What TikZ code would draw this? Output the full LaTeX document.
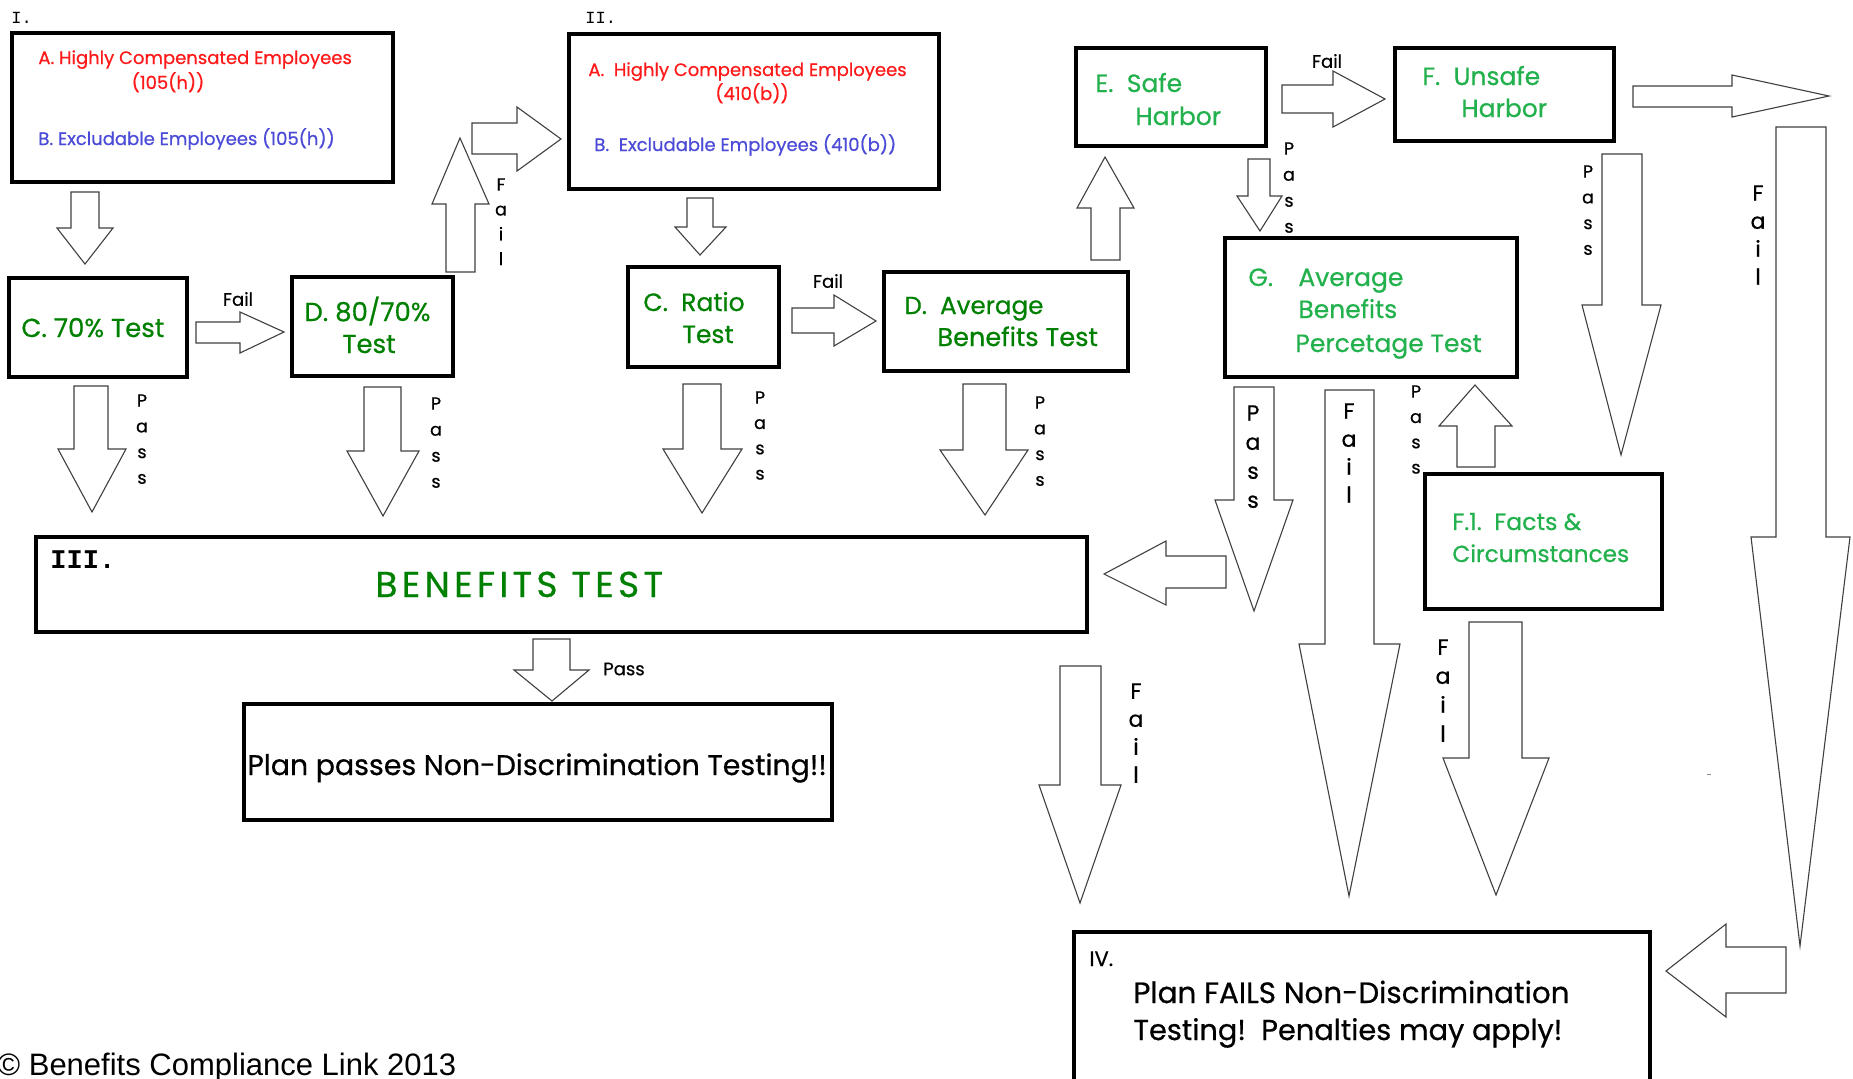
\documentclass[tikz,border=0pt]{standalone}
\usepackage{fontspec}
\setmainfont{Poppins}[RawFeature={embolden=0.6}]
\newfontfamily\monofam{Liberation Mono}
\newfontfamily\copyfont{Liberation Sans}
\usetikzlibrary{fit}
\definecolor{cred}{RGB}{255,25,25}
\definecolor{cblue}{RGB}{75,75,215}
\definecolor{dgreen}{RGB}{0,128,0}
\definecolor{lgreen}{RGB}{34,177,76}
\tikzset{
  box/.style={draw=black, line width=2.1pt, fill=white, inner sep=0pt},
  blk/.style={draw=black!75, line width=0.55pt, fill=white, line join=miter},
  txt/.style={anchor=base west, inner sep=0pt},
  ctxt/.style={anchor=base, inner sep=0pt},
  fs/.style={font=\fontsize{#1}{#1}\selectfont},
  lbl/.style={inner sep=0pt, font=\fontsize{9}{11}\selectfont},
}
% vertical block arrow: shaft xl, shaft xr, start y, head-base y, head xl, head xr, tip x, tip y
\newcommand\vblk[8]{\draw[blk] (#1,#3) -- (#2,#3) -- (#2,#4) -- (#6,#4) -- (#7,#8) -- (#5,#4) -- (#1,#4) -- cycle;}
% horizontal block arrow: shaft yt, shaft yb, start x, head-base x, head yt, head yb, tip x, tip y
\newcommand\hblk[8]{\draw[blk] (#3,#1) -- (#3,#2) -- (#4,#2) -- (#4,#6) -- (#7,#8) -- (#4,#5) -- (#4,#1) -- cycle;}
% vertical letters: x, top y, line spacing (pt), size (pt), letters, name
\newcommand\vlab[6]{\node[anchor=north, inner sep=0pt, align=center, font=\fontsize{#4}{#3}\selectfont] (#6) at (#1,#2) {#5};}
\begin{document}
\begin{tikzpicture}[x=0.5pt, y=-0.5pt]
\useasboundingbox[fill=white] (0,0) rectangle (1853,1078);

% ---------- block arrows ----------
\vblk{71}{99}{192}{228}{57}{113}{85}{264}
\vblk{74}{108}{386}{449}{58}{126}{92}{512}
\vblk{364}{401}{387}{451}{347}{419}{383}{516}
\vblk{446}{475}{272}{204}{432}{489}{460}{138}
\vblk{687}{713}{198}{227}{675}{726}{700}{255}
\vblk{683}{721}{384}{449}{663}{742}{702}{513}
\vblk{963}{1006}{384}{450}{940}{1028}{985}{515}
\vblk{1091}{1120}{260}{208}{1077}{1134}{1105}{157}
\vblk{1248}{1270}{159}{196}{1237}{1282}{1260}{231}
\vblk{1602}{1642}{154}{305}{1582}{1661}{1621}{455}
\vblk{1776}{1826}{127}{537}{1751}{1850}{1800}{946}
\vblk{1234}{1274}{387}{500}{1215}{1293}{1254}{611}
\vblk{1325}{1374}{390}{644}{1299}{1400}{1349}{896}
\vblk{1457}{1495}{467}{426}{1439}{1512}{1475}{385}
\vblk{1469}{1522}{622}{758}{1443}{1549}{1496}{895}
\vblk{1060}{1101}{666}{785}{1039}{1121}{1080}{903}
\vblk{533}{570}{639}{670}{514}{589}{552}{701}

\hblk{322}{343}{196}{240}{312}{353}{284}{332}
\hblk{123}{154}{472}{517}{107}{171}{561}{139}
\hblk{308}{333}{792}{834}{295}{346}{876}{321}
\hblk{85}{113}{1282}{1333}{71}{127}{1385}{99}
\hblk{86}{107}{1633}{1732}{75}{117}{1829}{96}
\hblk{556}{588}{1226}{1166}{541}{605}{1104}{574}
\hblk{947}{993}{1786}{1726}{924}{1017}{1666}{971}

\draw[black!45, line width=0.5pt] (1707,774) -- (1711,774);

% ---------- boxes ----------
\node[box, fit={(12,33) (393,182)}] (boxI) {};
\node[box, fit={(9,278) (187,377)}] (c70) {};
\node[box, fit={(292,277) (453,376)}] (d80) {};
\node[box, fit={(569,34) (939,189)}] (boxII) {};
\node[box, fit={(628,267) (779,367)}] (ratio) {};
\node[box, fit={(884,272) (1128,371)}] (davg) {};
\node[box, fit={(1076,48) (1266,146)}] (safe) {};
\node[box, fit={(1395,48) (1614,141)}] (unsafe) {};
\node[box, fit={(1225,238) (1517,377)}] (gbox) {};
\node[box, fit={(1425,474) (1662,609)}] (f1) {};
\node[box, fit={(36,537) (1087,632)}] (bt) {};
\node[box, fit={(244,704) (832,820)}] (pass) {};
\node[box, fit={(1074,932) (1650,1090)}] (fail) {};

% ---------- section labels ----------
\node[txt, font=\monofam\fontsize{8.5}{9}\selectfont] (lI) at (11,23) {I.};
\node[txt, font=\monofam\fontsize{8.5}{9}\selectfont] (lII) at (585,23) {II.};
\node[txt, font=\monofam\bfseries\fontsize{13.5}{14}\selectfont] (lIII) at (50,568) {III.};
\node[txt, fs=10.5] (lIV) at (1089,966) {IV.};

% ---------- box texts ----------
\node[txt, fs=9, text=cred] (ia) at (38,64) {A. Highly Compensated Employees};
\node[ctxt, fs=9, text=cred] (ia2) at (168,89) {(105(h))};
\node[txt, fs=9, text=cblue] (ib) at (38,145) {B. Excludable Employees (105(h))};

\node[txt, fs=9, text=cred] (iia) at (588,76) {A.\ \ Highly Compensated Employees};
\node[ctxt, fs=9, text=cred] (iia2) at (752,100) {(410(b))};
\node[txt, fs=9, text=cblue] (iib) at (594,151) {B.\ \ Excludable Employees (410(b))};

\node[txt, fs=13, text=dgreen] (tc70) at (21,337) {C. 70\% Test};
\node[txt, fs=13, text=dgreen] (td80) at (304,321) {D. 80/70\%};
\node[ctxt, fs=13, text=dgreen] (td80b) at (369,353) {Test};
\node[txt, fs=12.5, text=dgreen] (tr1) at (643,311) {C.\ \ Ratio};
\node[txt, fs=12.5, text=dgreen] (tr2) at (682,343) {Test};
\node[txt, fs=12.3, text=dgreen] (tda1) at (904,314) {D.\ \ Average};
\node[txt, fs=12.8, text=dgreen] (tda2) at (937,346) {Benefits Test};

\node[txt, fs=12.5, text=lgreen] (te1) at (1095,92) {E.\ \ Safe};
\node[txt, fs=12.5, text=lgreen] (te2) at (1135,125) {Harbor};
\node[txt, fs=12.5, text=lgreen] (tf1) at (1422,85) {F.\ \ Unsafe};
\node[txt, fs=12.5, text=lgreen] (tf2) at (1461,117) {Harbor};
\node[txt, fs=12.5, text=lgreen] (tg0) at (1248,286) {G.};
\node[txt, fs=12.5, text=lgreen] (tg1) at (1298,286) {Average};
\node[txt, fs=12.5, text=lgreen] (tg2) at (1298,318) {Benefits};
\node[txt, fs=12.5, text=lgreen] (tg3) at (1295,352) {Percetage Test};
\node[txt, fs=11.8, text=lgreen] (tfa1) at (1452,530) {F.1.\ \ Facts \&};
\node[txt, fs=11.6, text=lgreen] (tfa2) at (1452,562) {Circumstances};

\node[txt, text=dgreen, font=\fontsize{18}{18}\selectfont\addfontfeatures{LetterSpace=12}] (tbt) at (375,597) {BENEFITS TEST};
\node[txt, fs=14.2] (tpass) at (247,775) {Plan passes Non-Discrimination Testing!!};
\node[txt, fs=14.7] (tfail1) at (1133,1003) {Plan FAILS Non-Discrimination};
\node[txt, fs=14.4] (tfail2) at (1133,1040) {Testing!\ \ Penalties may apply!};

\node[txt, font=\copyfont\fontsize{15.5}{17}\selectfont] (copy) at (-3,1075) {\char"00A9{} Benefits Compliance Link 2013};

% ---------- horizontal labels ----------
\node[lbl] (l1) at (238,299) {Fail};
\node[lbl] (l2) at (828,281) {Fail};
\node[lbl] (l3) at (1327,61) {Fail};
\node[lbl] (l4) at (624,669) {Pass};

% ---------- vertical labels ----------
\vlab{501}{178}{12.4}{8.8}{F\\a\\i\\l}{v1}
\vlab{142}{394}{12.85}{8.8}{P\\a\\s\\s}{v2}
\vlab{436}{397}{13}{8.8}{P\\a\\s\\s}{v3}
\vlab{760}{391}{12.65}{8.8}{P\\a\\s\\s}{v4}
\vlab{1040}{396}{12.85}{8.8}{P\\a\\s\\s}{v5}
\vlab{1289}{142}{13}{8.8}{P\\a\\s\\s}{v6}
\vlab{1588}{165}{12.85}{8.8}{P\\a\\s\\s}{v7}
\vlab{1416}{385}{12.65}{8.8}{P\\a\\s\\s}{v8}
\vlab{1758}{185}{14}{11}{F\\a\\i\\l}{v9}
\vlab{1253}{405}{14.5}{11}{P\\a\\s\\s}{v10}
\vlab{1349}{403}{14}{11}{F\\a\\i\\l}{v11}
\vlab{1443}{639}{14.5}{11}{F\\a\\i\\l}{v12}
\vlab{1136}{683}{14}{11}{F\\a\\i\\l}{v13}
\end{tikzpicture}
\end{document}
